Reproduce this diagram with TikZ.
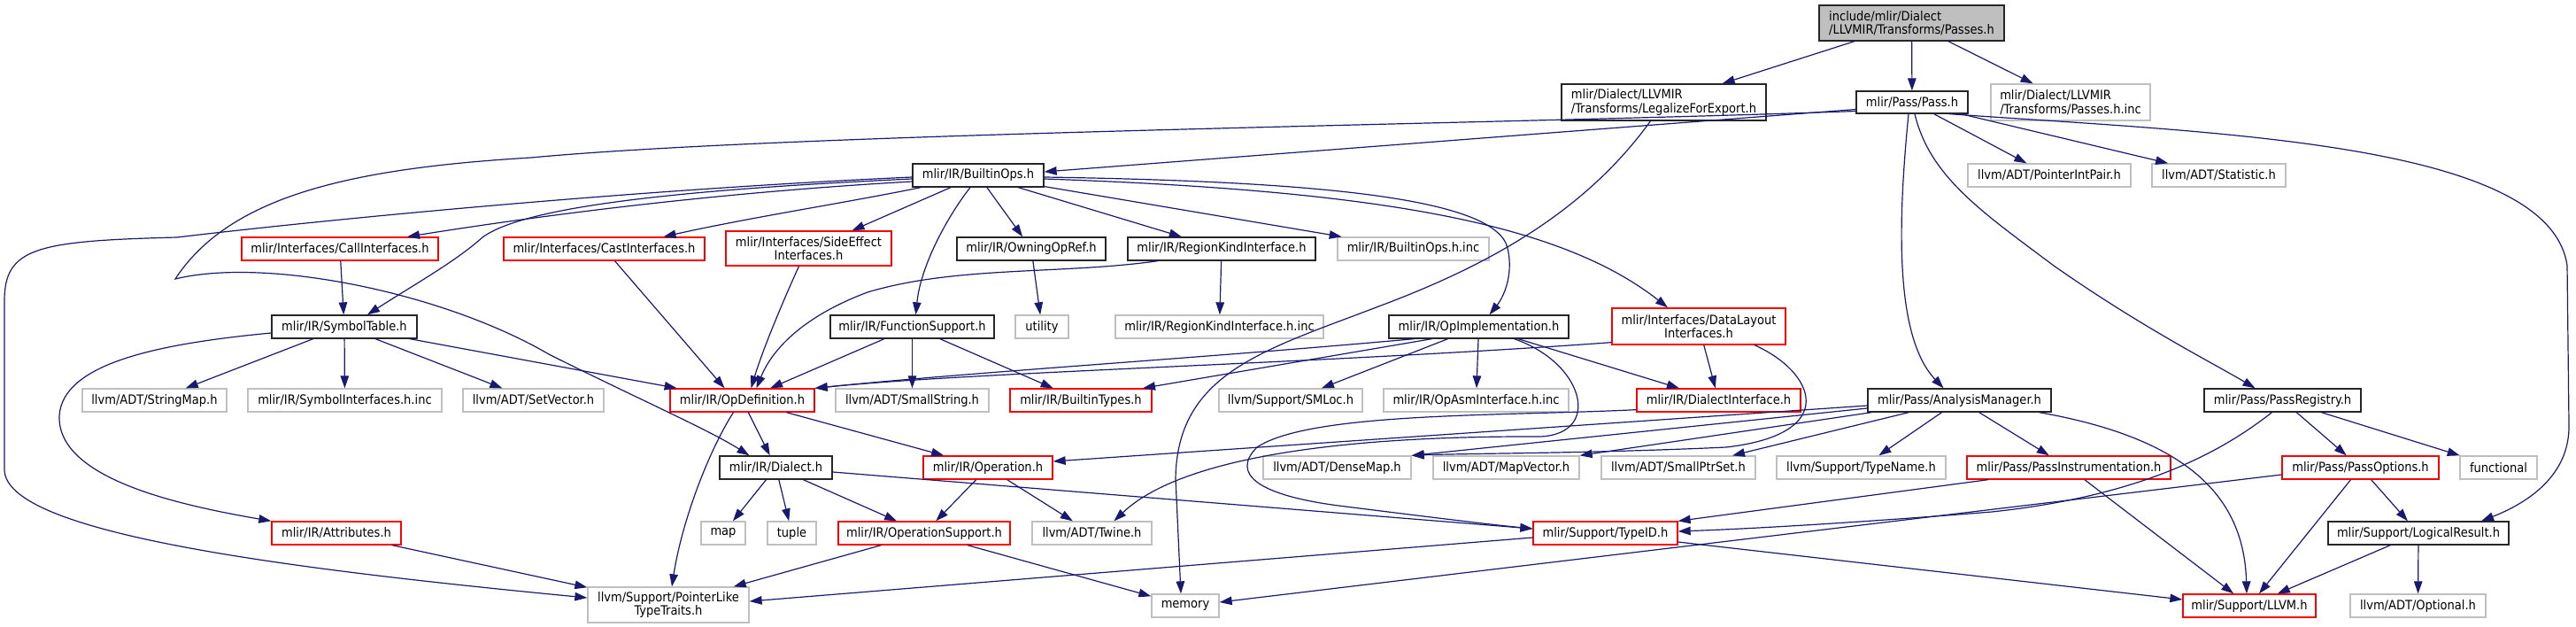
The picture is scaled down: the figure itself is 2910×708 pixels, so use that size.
\documentclass[tikz,border=0pt]{standalone}
\usepackage{fontspec}
\setmainfont{DejaVu Sans Condensed}
\usetikzlibrary{arrows.meta}
\definecolor{edgeblue}{HTML}{191970}
\definecolor{grey75}{HTML}{BFBFBF}

\begin{document}
\begin{tikzpicture}[
        x=1pt, y=-1pt,
        font=\fontsize{14.5pt}{15.5pt}\selectfont,
        every node/.style={rectangle, draw, line width=1.3pt, minimum height=26pt, inner sep=2pt},
        doc/.style={draw=black!85},
        undoc/.style={draw=grey75},
        trunc/.style={draw=red},
        root/.style={draw=black!85, fill=grey75},
        dep/.style={draw=edgeblue, line width=1.2pt, -{Triangle[length=14pt,width=9.5pt]}}
    ]
    \useasboundingbox (0,0) rectangle (2910,708);

    \node[root, minimum width=209, minimum height=40, align=left] (ps) at (2159.5,26) {include/mlir/Dialect\\/LLVMIR/Transforms/Passes.h};

    \node[doc, minimum width=231, minimum height=41, align=left] (lfe) at (1879.5,115.5) {mlir/Dialect/LLVMIR\\/Transforms/LegalizeForExport.h};
    \node[doc, minimum width=126, minimum height=25] (pass) at (2160,115.5) {mlir/Pass/Pass.h};
    \node[undoc, minimum width=180, minimum height=41, align=left] (pinc) at (2339,115.5) {mlir/Dialect/LLVMIR\\/Transforms/Passes.h.inc};

    \node[doc, minimum width=148] (bo) at (1105,198) {mlir/IR/BuiltinOps.h};
    \node[undoc, minimum width=184] (pip) at (2315,198) {llvm/ADT/PointerIntPair.h};
    \node[undoc, minimum width=151] (stat) at (2506.5,198) {llvm/ADT/Statistic.h};

    \node[trunc, minimum width=222] (call) at (384,281) {mlir/Interfaces/CallInterfaces.h};
    \node[trunc, minimum width=227] (cast) at (682.5,281) {mlir/Interfaces/CastInterfaces.h};
    \node[trunc, minimum width=187, minimum height=39, align=center] (side) at (913.5,280.5) {mlir/Interfaces/SideEffect\\Interfaces.h};
    \node[doc, minimum width=168] (own) at (1165,281) {mlir/IR/OwningOpRef.h};
    \node[doc, minimum width=212] (rki) at (1380,281) {mlir/IR/RegionKindInterface.h};
    \node[undoc, minimum width=171] (boinc) at (1596.5,281) {mlir/IR/BuiltinOps.h.inc};

    \node[doc, minimum width=164] (sym) at (389,369) {mlir/IR/SymbolTable.h};
    \node[doc, minimum width=185] (fs) at (1030.5,369) {mlir/IR/FunctionSupport.h};
    \node[undoc, minimum width=60] (util) at (1177,369) {utility};
    \node[undoc, minimum width=235] (rkiinc) at (1377.5,369) {mlir/IR/RegionKindInterface.h.inc};
    \node[doc, minimum width=203] (opimpl) at (1670.5,369) {mlir/IR/OpImplementation.h};
    \node[trunc, minimum width=196, minimum height=41, align=center] (dl) at (1919,368.5) {mlir/Interfaces/DataLayout\\Interfaces.h};

    \node[undoc, minimum width=163] (smap) at (174.5,452) {llvm/ADT/StringMap.h};
    \node[undoc, minimum width=219] (syminc) at (389.5,452) {mlir/IR/SymbolInterfaces.h.inc};
    \node[undoc, minimum width=159] (setv) at (602.5,452) {llvm/ADT/SetVector.h};
    \node[trunc, minimum width=163] (opdef) at (838.5,452) {mlir/IR/OpDefinition.h};
    \node[undoc, minimum width=173] (sstr) at (1030.5,452) {llvm/ADT/SmallString.h};
    \node[trunc, minimum width=160] (btypes) at (1221,452) {mlir/IR/BuiltinTypes.h};
    \node[undoc, minimum width=162] (smloc) at (1458,452) {llvm/Support/SMLoc.h};
    \node[undoc, minimum width=209] (asminc) at (1667.5,452) {mlir/IR/OpAsmInterface.h.inc};
    \node[trunc, minimum width=185] (diai) at (1941.5,452) {mlir/IR/DialectInterface.h};
    \node[doc, minimum width=207] (am) at (2213.5,452) {mlir/Pass/AnalysisManager.h};
    \node[doc, minimum width=177] (preg) at (2578.5,452) {mlir/Pass/PassRegistry.h};

    \node[doc, minimum width=127] (dia) at (876.5,528) {mlir/IR/Dialect.h};
    \node[trunc, minimum width=146] (op) at (1116,528) {mlir/IR/Operation.h};
    \node[undoc, minimum width=167] (dmap) at (1510.5,528) {llvm/ADT/DenseMap.h};
    \node[undoc, minimum width=165] (mvec) at (1701.5,528) {llvm/ADT/MapVector.h};
    \node[undoc, minimum width=174] (sps) at (1896,528) {llvm/ADT/SmallPtrSet.h};
    \node[undoc, minimum width=191] (tname) at (2102.5,528) {llvm/Support/TypeName.h};
    \node[trunc, minimum width=230] (pinst) at (2337,528) {mlir/Pass/PassInstrumentation.h};
    \node[trunc, minimum width=177] (popt) at (2666.5,528) {mlir/Pass/PassOptions.h};
    \node[undoc, minimum width=87] (func) at (2822.5,528) {functional};

    \node[trunc, minimum width=146] (attr) at (380,602) {mlir/IR/Attributes.h};
    \node[undoc, minimum width=50] (map) at (817,602) {map};
    \node[undoc, minimum width=55] (tuple) at (894.5,602) {tuple};
    \node[trunc, minimum width=194] (opsup) at (1044,602) {mlir/IR/OperationSupport.h};
    \node[undoc, minimum width=135] (twine) at (1233.5,602) {llvm/ADT/Twine.h};
    \node[trunc, minimum width=163] (tid) at (1813.5,602) {mlir/Support/TypeID.h};
    \node[doc, minimum width=204] (lr) at (2732,602) {mlir/Support/LogicalResult.h};

    \node[undoc, minimum width=182, minimum height=40, align=center] (plt) at (755,683) {llvm/Support/PointerLike\\TypeTraits.h};
    \node[undoc, minimum width=76] (mem) at (1339,684) {memory};
    \node[trunc, minimum width=150] (llvm) at (2541,684) {mlir/Support/LLVM.h};
    \node[undoc, minimum width=153] (opt) at (2731.5,684) {llvm/ADT/Optional.h};

    \draw[dep] (ps) -- (lfe);
    \draw[dep] (ps) -- (pass);
    \draw[dep] (ps) -- (pinc);

    \draw[dep] ([yshift=-8pt]pass.west) -- ([yshift=4pt]bo.east);
    \draw[dep] ([yshift=-10pt]pass.west) .. controls (1700,140) and (900,150) .. (600,178) .. controls (400,190) and (260,220) .. (198,315) .. controls (300,290) and (500,330) .. (620,400) .. controls (720,450) and (800,485) .. ([xshift=-30pt]dia.north);
    \draw[dep] (pass) -- (pip);
    \draw[dep] (pass) -- (stat);
    \draw[dep] ([xshift=-4pt]pass.south) .. controls (2144,250) and (2140,380) .. ([xshift=-18pt]am.north);
    \draw[dep] ([xshift=3pt]pass.south) .. controls (2180,200) and (2240,240) .. (2320,300) .. controls (2420,370) and (2500,410) .. ([xshift=-31pt]preg.north);
    \draw[dep] ([xshift=42pt]pass.south) .. controls (2500,150) and (2880,160) .. (2900,300) -- (2902,480) .. controls (2903,540) and (2850,570) .. ([xshift=71pt]lr.north);

    \draw[dep] ([xshift=-15pt]lfe.south) .. controls (1790,240) and (1680,300) .. (1560,345) .. controls (1430,395) and (1330,420) .. (1328,540) -- ([xshift=-5pt]mem.north);

    \draw[dep] ([yshift=-2pt]bo.west) .. controls (700,215) and (350,250) .. (200,268) .. controls (40,272) and (5,280) .. (5,340) -- (5,530) .. controls (5,600) and (300,640) .. ([yshift=8pt]plt.west);
    \draw[dep] ([yshift=-4pt]bo.west) .. controls (750,215) and (590,235) .. (545,268) .. controls (515,295) and (470,320) .. ([xshift=26pt]sym.north);
    \draw[dep] ([yshift=-7pt]bo.west) .. controls (800,218) and (600,245) .. ([xshift=76pt]call.north);
    \draw[dep] ([xshift=10pt]bo.south west) .. controls (950,230) and (850,245) .. ([xshift=67pt]cast.north);
    \draw[dep] ([xshift=-31pt]bo.south) -- ([xshift=49pt]side.north);
    \draw[dep] ([xshift=-9pt]bo.south) .. controls (1070,245) and (1040,300) .. ([xshift=4pt]fs.north);
    \draw[dep] (bo) -- (own);
    \draw[dep] (bo) -- (rki);
    \draw[dep] (bo) -- (boinc);
    \draw[dep] ([yshift=-2pt]bo.east) .. controls (1500,205) and (1690,225) .. (1703,280) .. controls (1711,315) and (1695,340) .. ([xshift=12pt]opimpl.north);
    \draw[dep] ([yshift=-4pt]bo.east) .. controls (1550,215) and (1760,250) .. ([xshift=-35pt]dl.north);

    \draw[dep] (call) -- (sym);
    \draw[dep] ([xshift=12pt]cast.south) -- ([xshift=-20pt]opdef.north);
    \draw[dep] ([xshift=-11pt]side.south) .. controls (880,350) and (860,400) .. ([xshift=10pt]opdef.north);
    \draw[dep] ([xshift=-72pt]rki.south) .. controls (1200,310) and (1080,300) .. (980,330) .. controls (900,360) and (870,400) .. ([xshift=16pt]opdef.north);
    \draw[dep] (rki) -- (rkiinc);
    \draw[dep] (own) -- (util);

    \draw[dep] (sym) -- (smap);
    \draw[dep] (sym) -- (syminc);
    \draw[dep] (sym) -- (setv);
    \draw[dep] (sym) -- (opdef);
    \draw[dep] ([yshift=-7pt]sym.west) .. controls (180,388) and (70,410) .. (67,470) .. controls (65,540) and (200,570) .. (attr.north west);

    \draw[dep] (fs) -- (opdef);
    \draw[dep] (fs) -- (sstr);
    \draw[dep] (fs) -- (btypes);

    \draw[dep] ([xshift=-73pt]opimpl.south) .. controls (1350,405) and (1100,420) .. (opdef.north east);
    \draw[dep] ([xshift=-53pt]opimpl.south) -- ([xshift=70pt]btypes.north);
    \draw[dep] (opimpl) -- (smloc);
    \draw[dep] (opimpl) -- (asminc);
    \draw[dep] (opimpl) -- (diai);
    \draw[dep] ([xshift=40pt]opimpl.south) .. controls (1790,410) and (1810,490) .. (1740,493) .. controls (1500,492) and (1330,520) .. ([xshift=25pt]twine.north);

    \draw[dep] ([yshift=3pt]dl.south west) .. controls (1500,410) and (1100,420) .. (opdef.north east);
    \draw[dep] (dl) -- (diai);
    \draw[dep] ([xshift=63pt]dl.south) .. controls (2050,420) and (2080,490) .. (1950,505) .. controls (1800,512) and (1650,512) .. (dmap.north east);

    \draw[dep] ([yshift=-6pt]am.west) -- ([yshift=7pt]op.east);
    \draw[dep] ([yshift=-9pt]am.west) -- (dmap.north east);
    \draw[dep] ([xshift=5pt]am.south west) -- (mvec.north east);
    \draw[dep] ([xshift=47pt]am.south west) -- ([xshift=61pt]sps.north);
    \draw[dep] (am) -- (tname);
    \draw[dep] (am) -- (pinst);
    \draw[dep] ([xshift=90pt]am.south) .. controls (2470,495) and (2535,560) .. ([xshift=-3pt]llvm.north);

    \draw[dep] (preg) -- (popt);
    \draw[dep] (preg) -- (func);
    \draw[dep] ([xshift=-12pt]preg.south) .. controls (2510,510) and (2420,560) .. (2250,578) .. controls (2100,590) and (1980,597) .. ([yshift=2pt]tid.east);

    \draw[dep] ([xshift=-91pt]pinst.south) -- (tid.north east);
    \draw[dep] (pinst) -- (llvm);
    \draw[dep] ([yshift=-8pt]popt.west) -- ([yshift=4pt]mem.east);
    \draw[dep] (popt) -- (llvm);
    \draw[dep] (popt) -- (lr);

    \draw[dep] (lr) -- (llvm);
    \draw[dep] (lr) -- (opt);

    \draw[dep] (opdef) -- (op);
    \draw[dep] (opdef) -- (dia);
    \draw[dep] ([xshift=-10pt]opdef.south) .. controls (800,510) and (770,590) .. ([xshift=4pt]plt.north);

    \draw[dep] (dia) -- (map);
    \draw[dep] (dia) -- (tuple);
    \draw[dep] (dia) -- (opsup);
    \draw[dep] ([yshift=-5pt]dia.east) -- ([yshift=5pt]tid.west);

    \draw[dep] ([yshift=3pt]diai.south west) .. controls (1700,470) and (1480,465) .. (1420,505) .. controls (1390,535) and (1420,560) .. (1520,572) .. controls (1600,582) and (1680,592) .. ([yshift=5pt]tid.west);

    \draw[dep] (op) -- (opsup);
    \draw[dep] (op) -- (twine);

    \draw[dep] (opsup) -- (plt);
    \draw[dep] (opsup) -- (mem);

    \draw[dep] (attr) -- (plt);

    \draw[dep] ([yshift=-5pt]tid.west) -- ([yshift=4pt]plt.east);
    \draw[dep] ([yshift=-10pt]tid.east) -- ([yshift=7pt]llvm.west);
\end{tikzpicture}
\end{document}
